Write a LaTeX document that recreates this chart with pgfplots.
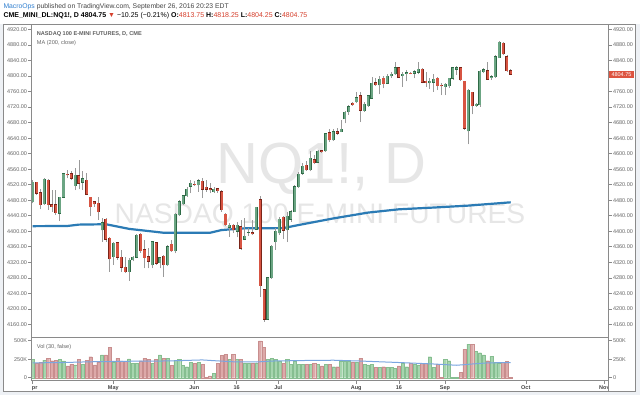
\documentclass[border=0pt]{standalone}
\usepackage{fontspec}
\setmainfont{Liberation Sans}
\usepackage{pgfplots}
\usepackage{pgfplotstable}
\pgfplotsset{compat=1.18}
\definecolor{upfill}{HTML}{6BA583}
\definecolor{upline}{HTML}{2E6A46}
\definecolor{dnfill}{HTML}{D75442}
\definecolor{dnline}{HTML}{7A2418}
\definecolor{wick}{HTML}{9A9A9A}
\definecolor{maline}{HTML}{2B7BB5}
\definecolor{volup}{HTML}{A6D5AE}
\definecolor{volupd}{HTML}{86BE90}
\definecolor{voldn}{HTML}{DDA9A9}
\definecolor{voldnd}{HTML}{C88E8E}
\definecolor{volma}{HTML}{7AA6E0}
\definecolor{frame}{HTML}{8A8A8A}
\definecolor{ticktext}{HTML}{666666}
\definecolor{hdr}{HTML}{444444}
\definecolor{tvblue}{HTML}{2F7FD0}
\definecolor{redval}{HTML}{D6402D}
\definecolor{lastred}{HTML}{DD5440}
\definecolor{wm}{HTML}{E6E6E6}
\definecolor{outbg}{HTML}{EEF1F5}

\pgfplotstableread{
i o h l c v
0 4476 4532 4472 4526 248
1 4526 4528 4493 4498 194
2 4499 4508 4456 4468 208
3 4470 4536 4468 4534 239
4 4532 4534 4455 4468 262
5 4468 4506 4450 4463 230
6 4468 4506 4442 4448 239
7 4446 4489 4426 4487 248
8 4487 4551 4485 4548 226
9 4547 4558 4536 4545 158
10 4548 4554 4532 4536 181
11 4517 4562 4506 4545 172
12 4543 4584 4508 4523 248
13 4526 4554 4506 4535 181
14 4532 4551 4493 4495 239
15 4487 4489 4438 4463 284
16 4476 4479 4463 4470 172
17 4472 4487 4429 4450 208
18 4403 4433 4373 4422 307
19 4431 4433 4373 4379 307
20 4382 4384 4296 4328 406
21 4334 4373 4313 4369 208
22 4370 4373 4326 4333 262
23 4333 4352 4296 4307 226
24 4307 4334 4293 4296 217
25 4296 4330 4272 4326 253
26 4326 4336 4322 4333 194
27 4333 4393 4330 4390 194
28 4392 4395 4345 4349 230
29 4352 4377 4304 4332 262
30 4334 4356 4304 4322 248
31 4313 4376 4304 4373 194
32 4370 4373 4313 4317 248
33 4319 4334 4304 4332 307
34 4336 4339 4283 4313 262
35 4313 4364 4310 4360 262
36 4366 4377 4347 4349 163
37 4349 4446 4343 4444 239
38 4442 4480 4439 4476 248
39 4470 4493 4467 4492 163
40 4491 4515 4489 4508 149
41 4516 4532 4498 4523 208
42 4522 4529 4516 4520 194
43 4519 4534 4502 4530 208
44 4529 4536 4485 4508 181
45 4513 4532 4502 4508 5
46 4510 4523 4498 4506 23
47 4502 4515 4498 4508 59
48 4510 4512 4499 4504 194
49 4502 4506 4450 4455 298
50 4444 4446 4413 4416 316
51 4410 4420 4386 4416 248
52 4416 4419 4396 4403 316
53 4400 4425 4384 4416 248
54 4412 4429 4352 4356 248
55 4379 4433 4377 4388 194
56 4398 4407 4388 4398 194
57 4396 4429 4390 4393 194
58 4405 4463 4403 4462 194
59 4481 4491 4231 4260 496
60 4249 4250 4167 4173 410
61 4173 4283 4170 4280 248
62 4280 4364 4278 4362 262
63 4373 4408 4352 4400 248
64 4395 4437 4390 4431 217
65 4436 4440 4380 4402 194
66 4403 4450 4372 4439 248
67 4431 4455 4425 4450 181
68 4450 4519 4449 4515 230
69 4515 4552 4512 4547 181
70 4549 4575 4545 4568 181
71 4571 4581 4555 4558 181
72 4558 4607 4554 4588 181
73 4584 4597 4572 4577 194
74 4578 4609 4575 4607 181
75 4608 4609 4601 4604 158
76 4607 4652 4605 4651 181
77 4654 4663 4631 4635 181
78 4635 4663 4633 4657 149
79 4657 4665 4648 4652 149
80 4657 4687 4655 4663 217
81 4689 4710 4678 4707 226
82 4707 4725 4700 4721 217
83 4730 4734 4724 4725 208
84 4734 4758 4730 4744 208
85 4749 4760 4681 4712 262
86 4711 4734 4708 4728 181
87 4724 4751 4721 4749 172
88 4743 4798 4741 4781 181
89 4783 4796 4774 4777 136
90 4777 4801 4753 4792 136
91 4794 4800 4768 4780 149
92 4781 4804 4779 4800 136
93 4800 4810 4796 4804 136
94 4805 4835 4803 4822 127
95 4822 4824 4794 4797 158
96 4801 4810 4773 4804 194
97 4806 4816 4786 4809 149
98 4808 4811 4804 4806 194
99 4807 4816 4794 4811 185
100 4810 4837 4804 4817 172
101 4818 4820 4781 4784 194
102 4786 4811 4773 4783 194
103 4782 4794 4767 4786 284
104 4784 4804 4760 4792 140
105 4794 4798 4764 4775 181
106 4777 4781 4751 4774 5
107 4773 4781 4751 4779 248
108 4774 4796 4770 4794 230
109 4794 4823 4790 4822 5
110 4817 4827 4803 4822 3
111 4822 4824 4787 4790 72
112 4786 4787 4661 4665 383
113 4658 4767 4624 4764 455
114 4758 4760 4701 4723 451
115 4724 4730 4721 4727 352
116 4725 4816 4721 4813 338
117 4811 4820 4807 4816 307
118 4814 4837 4790 4792 230
119 4796 4803 4790 4798 293
120 4798 4854 4796 4850 208
121 4847 4891 4846 4887 194
122 4884 4887 4854 4857 208
123 4850 4854 4811 4814 217
124 4813.75 4818.25 4804.25 4804.75 5
}\candles

\pgfplotstableread{
i ma
0 4413
9 4413.5
12 4417
19 4418
25 4406
34 4396
46 4396
49 4403
55 4407.5
65 4408
69 4416
78 4433
87 4448
95 4456.5
104 4461
113 4466
124 4474.5
}\matab

\pgfplotstableread{
i vma
0 200
8 205
15 215
25 222
35 226
44 240
47 230
52 215
58 212
62 225
70 232
78 236
85 225
95 205
104 185
110 168
114 185
118 200
124 205
}\vmatab

\pgfplotsset{
  tvaxis/.style={
    scale only axis, width=576.6pt,
    xmin=-0.26, xmax=149.31,
    axis line style={draw=frame, line width=0.6pt},
    tick style={draw=frame, line width=0.5pt},
    tick align=outside, major tick length=3.5pt,
    ticklabel style={font=\fontsize{5.5}{6}\selectfont, text=ticktext, inner sep=1pt},
    /pgf/number format/assume math mode=true,
  },
  pricefmt/.style={
    yticklabel style={/pgf/number format/fixed, /pgf/number format/fixed zerofill,
      /pgf/number format/precision=2, /pgf/number format/1000 sep={}},
  },
  candlebar/.style={forget plot, draw=none, mark=none,
    error bars/.cd, y dir=plus, y explicit, error mark=none,
    error bar style={#1}},
}

\begin{document}
\begin{tikzpicture}[x=1pt,y=1pt]
\useasboundingbox (0,0) rectangle (640,395);
\fill[outbg] (0,0) rectangle (640,395);
\fill[white] (0,371) rectangle (640,395);
\fill[white] (3.3,3.5) rectangle (635,371);
\draw[frame, line width=0.6pt] (3.3,3.5) rectangle (635,371);
% watermark
\node[anchor=base, inner sep=0, text=wm, font=\fontsize{58}{60}\selectfont] at (321.7,211.7) {NQ1!, D};
\node[anchor=base, inner sep=0, text=wm, font=\fontsize{28.2}{30}\selectfont] at (320,171.7) {NASDAQ 100 E-MINI FUTURES};

% main pane, left labels and data
\begin{axis}[tvaxis, at={(31.7pt,57.5pt)}, anchor=south west, height=313.5pt,
  ymin=4126, ymax=4934.2, xtick=\empty,
  ytick={4160,4200,...,4920}, ytick pos=left, yticklabel pos=left, pricefmt]
\addplot[maline, line width=2.2pt, forget plot] table[x=i, y=ma] {\matab};
\addplot[candlebar={draw=wick, line width=0.7pt}]
  table[x=i, y=l, y error plus expr={\thisrow{h}-\thisrow{l}}, y error minus expr={0}] {\candles};
\addplot[candlebar={draw=upline, line width=3pt}]
  table[x=i, y expr={\thisrow{c}>=\thisrow{o} ? \thisrow{o}-0.9 : nan},
        y error plus expr={\thisrow{c}-\thisrow{o}+1.8}, y error minus expr={0}] {\candles};
\addplot[candlebar={draw=upfill, line width=2.1pt}]
  table[x=i, y expr={\thisrow{c}>=\thisrow{o} ? \thisrow{o} : nan},
        y error plus expr={\thisrow{c}-\thisrow{o}}, y error minus expr={0}] {\candles};
\addplot[candlebar={draw=dnline, line width=3pt}]
  table[x=i, y expr={\thisrow{c}<\thisrow{o} ? \thisrow{c}-0.9 : nan},
        y error plus expr={\thisrow{o}-\thisrow{c}+1.8}, y error minus expr={0}] {\candles};
\addplot[candlebar={draw=dnfill, line width=2.1pt}]
  table[x=i, y expr={\thisrow{c}<\thisrow{o} ? \thisrow{c} : nan},
        y error plus expr={\thisrow{o}-\thisrow{c}}, y error minus expr={0}] {\candles};
\end{axis}

% main pane, right labels
\begin{axis}[tvaxis, at={(31.7pt,57.5pt)}, anchor=south west, height=313.5pt,
  ymin=4126, ymax=4934.2, xtick=\empty,
  ytick={4160,4200,...,4760,4840,4880,4920}, ytick pos=right, yticklabel pos=right, pricefmt,
  extra y ticks={4804.75}, extra y tick labels={4804.75},
  extra y tick style={yticklabel style={fill=lastred, text=white, inner xsep=3pt, inner ysep=1.6pt, xshift=-3.5pt}}]
\addplot[draw=none, forget plot] coordinates {(0,4500)};
\end{axis}

% volume pane
\begin{axis}[tvaxis, at={(31.7pt,14.3pt)}, anchor=south west, height=43.2pt,
  ymin=-40.5, ymax=543,
  ytick={0,250,500}, yticklabels={0,250K,500K}, ytick pos=left, yticklabel pos=left,
  xtick={0,20.9,41.9,52.9,63.7,83.9,95,106.95,127.9,148.3},
  xticklabels={\phantom{A}pr,May,Jun,16,Jul,Aug,16,Sep,Oct,Nov},
  xtick pos=bottom,
  xticklabel style={font=\bfseries\fontsize{5.5}{6}\selectfont, text=hdr}]
\addplot[ybar, bar width=3.1pt, bar shift=0pt, fill=volup, draw=volupd, line width=0.3pt, forget plot]
  table[x=i, y expr={\thisrow{c}>=\thisrow{o} ? \thisrow{v} : nan}] {\candles};
\addplot[ybar, bar width=3.1pt, bar shift=0pt, fill=voldn, draw=voldnd, line width=0.3pt, forget plot]
  table[x=i, y expr={\thisrow{c}<\thisrow{o} ? \thisrow{v} : nan}] {\candles};
\addplot[volma, line width=1pt, forget plot] table[x=i, y=vma] {\vmatab};
\end{axis}

\begin{axis}[tvaxis, at={(31.7pt,14.3pt)}, anchor=south west, height=43.2pt,
  ymin=-40.5, ymax=543, xtick=\empty,
  ytick={0,250,500}, yticklabels={0,250K,500K}, ytick pos=right, yticklabel pos=right]
\addplot[draw=none, forget plot] coordinates {(0,100)};
\end{axis}

% clip the Nov label at the pane edge
\fill[white] (608.6,4) rectangle (634.6,14.0);
\draw[frame, line width=0.6pt] (608.3,3.5) -- (608.3,14.3);

% texts
\node[anchor=west, inner sep=0, font=\fontsize{6.8}{8}\selectfont] at (3.3,388.5)
  {\textcolor{tvblue}{MacroOps}~\textcolor{hdr}{published on TradingView.com, September 26, 2016 20:23 EDT}};
\node[anchor=west, inner sep=0, font=\fontsize{7}{8}\selectfont, text=black] at (3.3,379.5)
  {\textbf{CME\_MINI\_DL:NQ1!, D 4804.75} \textcolor{redval}{▼} −10.25 (−0.21\%) \textbf{O:}\textcolor{redval}{4813.75} \textbf{H:}\textcolor{redval}{4818.25} \textbf{L:}\textcolor{redval}{4804.25} \textbf{C:}\textcolor{redval}{4804.75}};
\node[anchor=west, inner sep=0, font=\bfseries\fontsize{5.6}{6}\selectfont, text=hdr!85] at (36.7,361.2)
  {NASDAQ 100 E-MINI FUTURES, D, CME};
\node[anchor=west, inner sep=0, font=\fontsize{5.6}{6}\selectfont, text=ticktext] at (36.7,352)
  {MA (200, close)};
\node[anchor=west, inner sep=0, font=\fontsize{5.6}{6}\selectfont, text=ticktext] at (36.7,48)
  {Vol (30, false)};
\end{tikzpicture}
\end{document}
